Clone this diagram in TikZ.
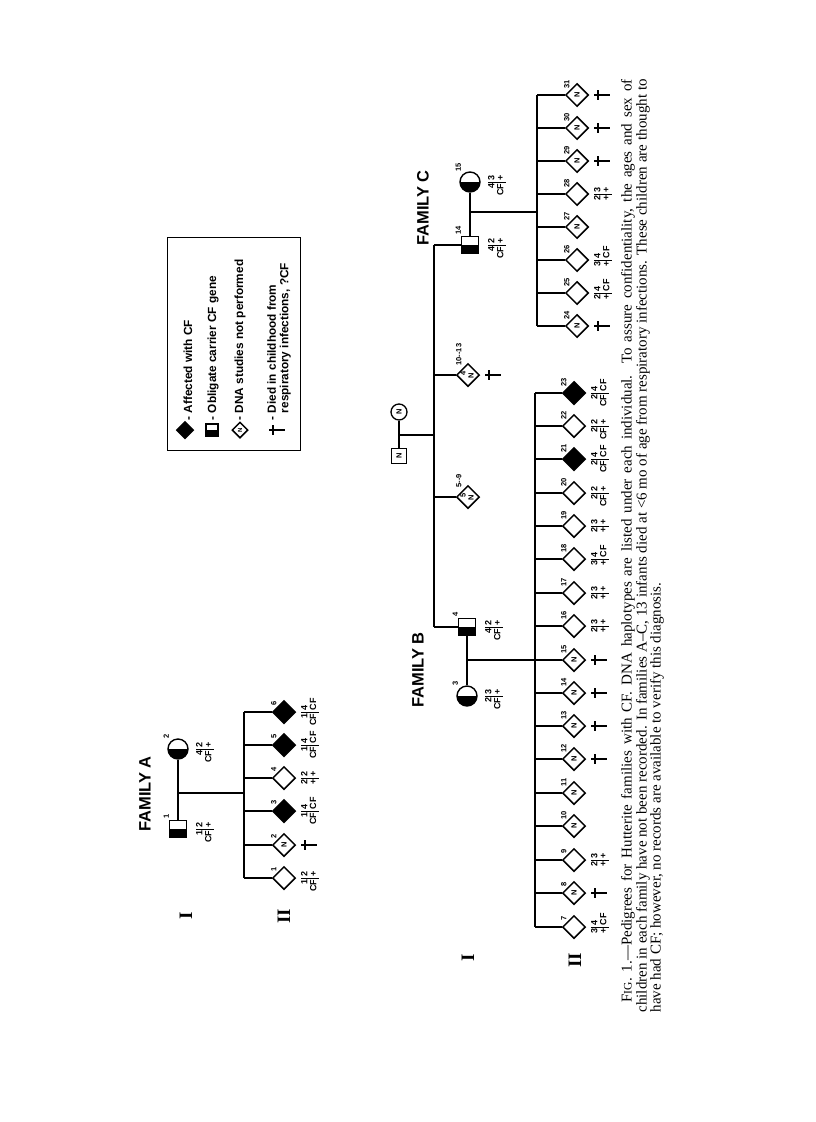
\documentclass[tikz,border=0pt]{standalone}
\usepackage{fontspec}
\setmainfont{Liberation Serif}
\newfontfamily\hv{Liberation Sans}
\usetikzlibrary{shapes.geometric}
\newcommand\RN{\rotatebox{90}{N}}
\newcommand\hap[4]{{\setlength\arrayrulewidth{0.9pt}\renewcommand\arraystretch{0.92}\setlength\tabcolsep{0pt}\begin{tabular}{@{}r@{\hspace{1.5pt}}|@{\hspace{1.5pt}}l@{}}\makebox[11pt][r]{#1}&\makebox[11pt][l]{#2}\\\makebox[11pt][r]{#3}&\makebox[11pt][l]{#4}\end{tabular}}}
\newcommand\kid[6]{\node[#4] (#1) at (#2,#3) {#5};\node[numl] at (#2-7,#3-6) {#6};}
\newcommand\hapk[5]{\node[hapl] at ([xshift=26pt]#1.center) {\hap{#2}{#3}{#4}{#5}};}
\newcommand\happ[5]{\node[hapl] at ([xshift=27pt]#1.center) {\hap{#2}{#3}{#4}{#5}};}
\newcommand\dagk[1]{\pic at ([xshift=17pt]#1.center) {dagger};}
\begin{document}
\begin{tikzpicture}[x=1pt,y=-1pt,line width=1.3pt,
 dia/.style={diamond,aspect=1,draw,line width=1.5pt,minimum size=23pt,inner sep=0pt,font=\hv\bfseries\fontsize{7.5}{7.5}\selectfont},
 aff/.style={dia,fill=black},
 halffill/.style={draw,line width=1.4pt,inner sep=0pt,path picture={\fill[black] (path picture bounding box.west) rectangle (path picture bounding box.south east);}},
 sqr/.style={halffill,rectangle,minimum size=17pt},
 circ/.style={halffill,circle,minimum size=20pt},
 nsq/.style={rectangle,draw,line width=1.3pt,minimum size=15pt,inner sep=0pt,font=\hv\bfseries\fontsize{7.5}{7.5}\selectfont},
 ncirc/.style={circle,draw,line width=1.3pt,minimum size=16pt,inner sep=0pt,font=\hv\bfseries\fontsize{7.5}{7.5}\selectfont},
 numl/.style={rotate=90,anchor=south west,inner sep=0pt,font=\hv\bfseries\fontsize{7.5}{7.5}\selectfont},
 pnum/.style={rotate=90,anchor=south west,inner sep=0pt,font=\hv\bfseries\fontsize{7.5}{7.5}\selectfont},
 tinytxt/.style={rotate=90,inner sep=0pt,font=\hv\bfseries\fontsize{7.5}{7.5}\selectfont},
 hapl/.style={rotate=90,inner sep=0pt,font=\hv\bfseries\fontsize{9}{9.5}\selectfont},
 ttl/.style={rotate=90,inner sep=0pt,font=\hv\bfseries\fontsize{16.5}{16.5}\selectfont},
 gentxt/.style={rotate=90,inner sep=0pt,font=\bfseries\fontsize{19}{19}\selectfont},
 legtxt/.style={rotate=90,anchor=west,inner sep=0pt,align=left,font=\hv\bfseries\fontsize{11.8}{12.5}\selectfont},
 captxt/.style={rotate=90,anchor=west,inner sep=0pt,font=\fontsize{15}{14.5}\selectfont},
 dagger/.pic={\draw[line width=1.3pt] (0,0) -- (16,0) (4,-5) -- (4,5);}]
\fill[white] (0,0) rectangle (816,1122);
\useasboundingbox (0,0) rectangle (816,1122);

% ---------- legend ----------
\node[draw,line width=1pt,minimum width=133pt,minimum height=213pt,inner sep=0pt] (legbox) at (233.5,343.5) {};
\node[aff,minimum size=17pt] (L1) at (185,430) {};
\node[sqr,minimum size=12pt] (L2) at (212,430) {};
\node[dia,minimum size=16pt,font=\hv\bfseries\fontsize{6}{6}\selectfont] (L3) at (240,430) {\RN};
\pic at (269,430) {dagger};
\node[legtxt] (T1) at (188,421) {- Affected with CF};
\node[legtxt] (T2) at (213,421) {- Obligate carrier CF gene};
\node[legtxt] (T3) at (240,421) {- DNA studies not performed};
\node[legtxt] (T4) at (279,421) {- Died in childhood from\\\phantom{- }respiratory infections, ?CF};

% ---------- Family A ----------
\node[ttl] (tA) at (145,794) {FAMILY A};
\node[gentxt] (gA1) at (186,916) {I};
\node[gentxt] (gA2) at (284,916) {II};
\node[sqr] (A1) at (178,829) {};
\node[circ] (A2) at (178,749) {};
\node[pnum] at (178-8.5,829-10) {1};
\node[pnum] at (178-8.5,749-10) {2};
\happ{A1}{1}{2}{CF}{+}
\happ{A2}{4}{2}{CF}{+}
\draw (A2) -- (A1);
\coordinate (Am) at (178,793);
\coordinate (As) at (244,793);
\draw (Am) -- (As);
\kid{Ak1}{284}{878}{dia}{}{1}
\kid{Ak2}{284}{845}{dia}{\RN}{2}
\kid{Ak3}{284}{811}{aff}{}{3}
\kid{Ak4}{284}{778}{dia}{}{4}
\kid{Ak5}{284}{745}{aff}{}{5}
\kid{Ak6}{284}{712}{aff}{}{6}
\draw (As |- Ak6) -- (As |- Ak1);
\foreach \k in {1,...,6} {\draw (As |- Ak\k) -- (Ak\k);}
\hapk{Ak1}{1}{2}{CF}{+}
\dagk{Ak2}
\hapk{Ak3}{1}{4}{CF}{CF}
\hapk{Ak4}{2}{2}{+}{+}
\hapk{Ak5}{1}{4}{CF}{CF}
\hapk{Ak6}{1}{4}{CF}{CF}

% ---------- Generation I parents (N) ----------
\node[gentxt] (gB1) at (468,958) {I};
\node[gentxt] (gB2) at (575,960) {II};
\node[nsq] (P1) at (399,456) {\RN};
\node[ncirc] (P2) at (399,412) {\RN};
\draw (P2) -- (P1);
\coordinate (Pm) at (399,435);
\coordinate (Ps) at (434,435);
\draw (Pm) -- (Ps);

% ---------- Family B ----------
\node[ttl] (tB) at (418,670) {FAMILY B};
\node[sqr] (B4) at (467,627) {};
\node[circ] (B3) at (467,696) {};
\node[pnum] at (467-8.5,627-10) {4};
\node[pnum] at (467-8.5,696-10) {3};
\happ{B4}{4}{2}{CF}{+}
\happ{B3}{2}{3}{CF}{+}
\draw (B4) -- (B3);
\coordinate (Bm) at (467,660);

% ---------- Family C ----------
\node[ttl] (tC) at (423,208) {FAMILY C};
\node[sqr] (C14) at (470,245) {};
\node[circ] (C15) at (470,182) {};
\node[pnum] at (470-8.5,245-10) {14};
\node[pnum] at (470-8.5,182-10) {15};
\happ{C14}{4}{2}{CF}{+}
\happ{C15}{4}{3}{CF}{+}
\draw (C14) -- (C15);
\coordinate (Cm) at (470,212);
\coordinate (Cs) at (537,212);
\draw (Cm) -- (Cs);

% groups of unrecorded sibs
\node[dia] (G1013) at (468,375) {};
\node[tinytxt] at (463,373) {4};
\node[tinytxt] at (471,376) {N};
\node[numl] at (468-6,375-9) {10--13};
\dagk{G1013}
\node[dia] (G59) at (468,497) {};
\node[tinytxt] at (463,495) {5};
\node[tinytxt] at (471,498) {N};
\node[numl] at (468-6,497-9) {5--9};

% sibship of generation I
\draw (Ps |- C14) -- (Ps |- B4);
\draw (Ps |- C14) -- (C14);
\draw (Ps |- B4) -- (B4);
\draw (Ps |- G1013) -- (G1013);
\draw (Ps |- G59) -- (G59);

% Family B children
\kid{Bk7}{574}{927}{dia}{}{7}
\kid{Bk8}{574}{893}{dia}{\RN}{8}
\kid{Bk9}{574}{860}{dia}{}{9}
\kid{Bk10}{574}{826}{dia}{\RN}{10}
\kid{Bk11}{574}{793}{dia}{\RN}{11}
\kid{Bk12}{574}{759}{dia}{\RN}{12}
\kid{Bk13}{574}{726}{dia}{\RN}{13}
\kid{Bk14}{574}{693}{dia}{\RN}{14}
\kid{Bk15}{574}{660}{dia}{\RN}{15}
\kid{Bk16}{574}{626}{dia}{}{16}
\kid{Bk17}{574}{593}{dia}{}{17}
\kid{Bk18}{574}{559}{dia}{}{18}
\kid{Bk19}{574}{526}{dia}{}{19}
\kid{Bk20}{574}{493}{dia}{}{20}
\kid{Bk21}{574}{459}{aff}{}{21}
\kid{Bk22}{574}{426}{dia}{}{22}
\kid{Bk23}{574}{393}{aff}{}{23}
\coordinate (Bs) at (535,660);
\draw (Bs |- Bk23) -- (Bs |- Bk7);
\draw (Bm) -- (Bs);
\foreach \k in {7,...,23} {\draw (Bs |- Bk\k) -- (Bk\k);}
\hapk{Bk7}{3}{4}{+}{CF}
\dagk{Bk8}
\hapk{Bk9}{2}{3}{+}{+}
\dagk{Bk12}
\dagk{Bk13}
\dagk{Bk14}
\dagk{Bk15}
\hapk{Bk16}{2}{3}{+}{+}
\hapk{Bk17}{2}{3}{+}{+}
\hapk{Bk18}{3}{4}{+}{CF}
\hapk{Bk19}{2}{3}{+}{+}
\hapk{Bk20}{2}{2}{CF}{+}
\hapk{Bk21}{2}{4}{CF}{CF}
\hapk{Bk22}{2}{2}{CF}{+}
\hapk{Bk23}{2}{4}{CF}{CF}

% Family C children
\kid{Ck24}{577}{326}{dia}{\RN}{24}
\kid{Ck25}{577}{293}{dia}{}{25}
\kid{Ck26}{577}{260}{dia}{}{26}
\kid{Ck27}{577}{227}{dia}{\RN}{27}
\kid{Ck28}{577}{194}{dia}{}{28}
\kid{Ck29}{577}{161}{dia}{\RN}{29}
\kid{Ck30}{577}{128}{dia}{\RN}{30}
\kid{Ck31}{577}{95}{dia}{\RN}{31}
\draw (Cs |- Ck31) -- (Cs |- Ck24);
\foreach \k in {24,...,31} {\draw (Cs |- Ck\k) -- (Ck\k);}
\dagk{Ck24}
\hapk{Ck25}{2}{4}{+}{CF}
\hapk{Ck26}{3}{4}{+}{CF}
\hapk{Ck28}{2}{3}{+}{+}
\dagk{Ck29}
\dagk{Ck30}
\dagk{Ck31}

% ---------- caption ----------
\node[captxt] (cap1) at (628,1003) {\makebox[923pt][s]{F{\fontsize{11.5}{11.5}\selectfont IG}. 1.—Pedigrees for Hutterite families with CF. DNA haplotypes are listed under each individual. To assure confidentiality, the ages and sex of}};
\node[captxt] (cap2) at (643,1013) {\makebox[933pt][s]{children in each family have not been recorded. In families A–C, 13 infants died at <6 mo of age from respiratory infections. These children are thought to}};
\node[captxt] (cap3) at (657,1013) {have had CF; however, no records are available to verify this diagnosis.};
\end{tikzpicture}
\end{document}
